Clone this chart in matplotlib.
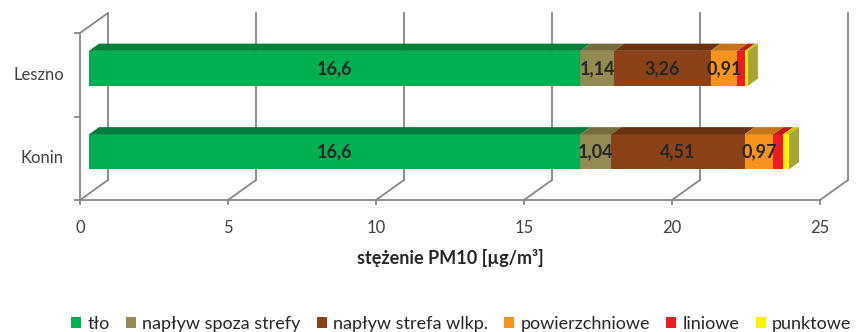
import matplotlib
matplotlib.use('Agg')
import matplotlib.pyplot as plt
from matplotlib.patches import Polygon, Patch

plt.rcParams['font.family'] = ['Lato', 'DejaVu Sans']

# dane
categories = ['Konin', 'Leszno']
series = ['tło', 'napływ spoza strefy', 'napływ strefa wlkp.',
          'powierzchniowe', 'liniowe', 'punktowe']
values = {
    'Konin':  [16.6, 1.04, 4.51, 0.97, 0.33, 0.20],
    'Leszno': [16.6, 1.14, 3.26, 0.91, 0.25, 0.10],
}
labelled = [True, True, True, True, False, False]
xticks = [0, 5, 10, 15, 20, 25]
xlabel = 'stężenie PM10 [µg/m³]'

# kolory: front, góra, bok
colors = ['#00B050', '#948A54', '#8B4216', '#F7941D', '#ED1C24', '#FFF200']
tops = ['#007E3A', '#756C3E', '#6A3210', '#C4761C', '#BC1A1E', '#C8C800']
side_last = '#A6A636'
grid_c = '#868686'

# geometria "3D"
W, H = 862, 332
PX = 29.6            # px na jednostkę
YU = 2 / 167         # jednostki y na px
DX = 28 / PX         # przesunięcie głębokości
DY = 20 * YU
d0, d1 = 0.32, 0.68
bar_h = 35 * YU

def ypx(p):
    return -0.5 + (200 - p) * YU

fig = plt.figure(figsize=(W / 100, H / 100), dpi=100)
ax = fig.add_axes([0, 0, 1, 1])
ax.set_xlim(-80 / PX, (W - 80) / PX)
ax.set_ylim(ypx(H), ypx(0))
ax.axis('off')

lw = 1.3
# ściana tylna i podłoga
for t in xticks:
    ax.plot([t + DX, t + DX], [-0.5 + DY, 1.5 + DY], color=grid_c, lw=lw, zorder=1)
    ax.plot([t, t + DX], [-0.5, -0.5 + DY], color=grid_c, lw=lw, zorder=1)
    ax.plot([t, t], [-0.5, -0.5 - 4 * YU], color=grid_c, lw=lw, zorder=1)
    ax.text(t, ypx(228), str(t), ha='center', va='center', fontsize=12, color='#404040')
ax.plot([0, 25], [-0.5, -0.5], color=grid_c, lw=lw, zorder=1)
# ściana lewa
ax.plot([0, 0], [-0.5, 1.5], color=grid_c, lw=lw, zorder=1)
ax.plot([0, DX], [1.5, 1.5 + DY], color=grid_c, lw=lw, zorder=1)
for yy in [-0.5, 0.5, 1.5]:
    ax.plot([-5 / PX, 0], [yy, yy], color=grid_c, lw=lw, zorder=1)

# słupki
for ci, cat in enumerate(categories):
    c = ci
    b0 = c - bar_h / 2 + d0 * DY
    t0 = c + bar_h / 2 + d0 * DY
    t1 = t0 + (d1 - d0) * DY
    left = 0
    for si, v in enumerate(values[cat]):
        right = left + v
        xl0, xr0 = left + d0 * DX, right + d0 * DX
        xl1, xr1 = left + d1 * DX, right + d1 * DX
        ax.add_patch(Polygon([(xl0, b0), (xr0, b0), (xr0, t0), (xl0, t0)],
                             closed=True, facecolor=colors[si], edgecolor='none', zorder=3))
        ax.add_patch(Polygon([(xl0, t0), (xr0, t0), (xr1, t1), (xl1, t1)],
                             closed=True, facecolor=tops[si], edgecolor='none', zorder=3))
        if labelled[si]:
            ax.text((xl0 + xr0) / 2, (b0 + t0) / 2, str(v).replace('.', ','),
                    ha='center', va='center', fontsize=13, fontweight='bold',
                    color='#262626', zorder=5)
        left = right
    xr0, xr1 = left + d0 * DX, left + d1 * DX
    ax.add_patch(Polygon([(xr0, b0), (xr0, t0), (xr1, t1), (xr1, b0 + (d1 - d0) * DY)],
                         closed=True, facecolor=side_last, edgecolor='none', zorder=3))
    ax.text(-16 / PX, c, cat, ha='right', va='center', fontsize=12, color='#404040')

ax.text((450 - 80) / PX, ypx(258), xlabel, ha='center', va='center',
        fontsize=13, fontweight='bold', color='#262626')

handles = [Patch(facecolor=col, edgecolor='none') for col in colors]
fig.legend(handles, series, loc='center', bbox_to_anchor=(0.535, 1 - 324 / H),
           ncol=6, frameon=False, fontsize=13, handlelength=0.55, handleheight=0.55,
           handletextpad=0.35, columnspacing=0.9, labelcolor='#262626',
           borderpad=0, borderaxespad=0)

fig.savefig('out.png', dpi=100)
